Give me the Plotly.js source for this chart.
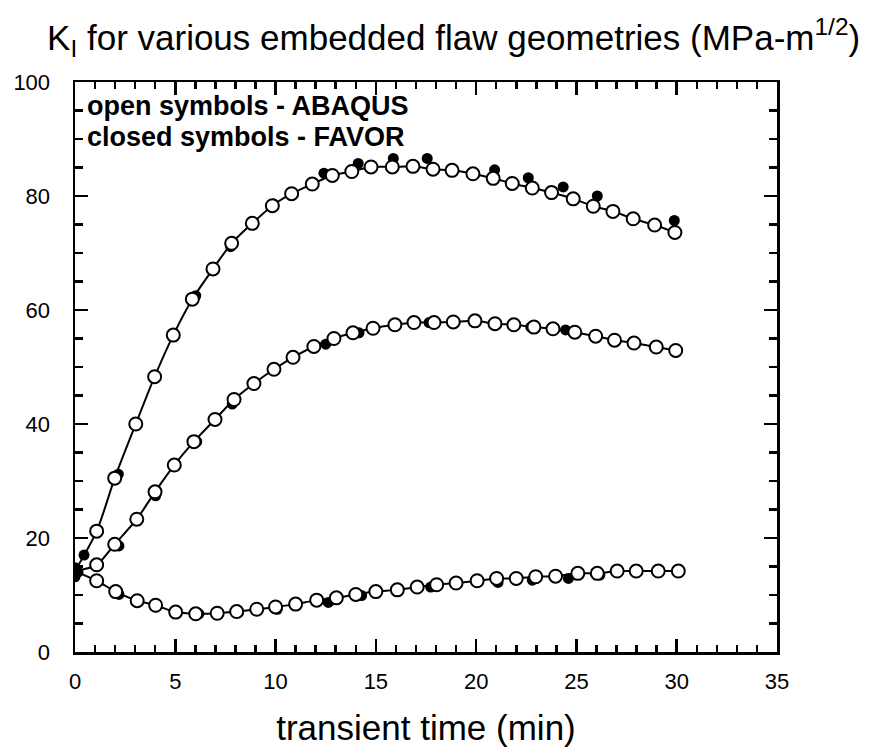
<!DOCTYPE html>
<html>
<head>
<meta charset="utf-8">
<script src="https://cdn.plot.ly/plotly-3.0.1.min.js"></script>
<style>html,body{margin:0;padding:0;background:#fff;}</style>
</head>
<body>
<div id="chart" style="width:869px;height:747px;"></div>
<script>
// Top curve (ABAQUS open symbols)
const t1Open = [0, 1.08, 1.98, 3.03, 3.97, 4.9, 5.85, 6.88, 7.81, 8.84, 9.84, 10.8, 11.83, 12.83, 13.8, 14.76, 15.82, 16.85, 17.85, 18.8, 19.84, 20.85, 21.8, 22.8, 23.76, 24.84, 25.84, 26.82, 27.83, 28.9, 29.91];
const k1Open = [14.2, 21.2, 30.5, 40.0, 48.3, 55.6, 61.9, 67.2, 71.7, 75.2, 78.3, 80.4, 82.1, 83.6, 84.3, 85.1, 85.1, 85.2, 84.7, 84.5, 83.9, 83.1, 82.2, 81.4, 80.6, 79.5, 78.2, 77.3, 76.0, 74.9, 73.6];
// Top curve (FAVOR closed symbols)
const t1Closed = [0, 0.45, 2.16, 4.02, 6.02, 7.76, 9.9, 12.41, 14.12, 15.87, 17.56, 20.92, 22.6, 24.34, 26.04, 29.88];
const k1Closed = [14.8, 17.0, 31.2, 48.3, 62.5, 71.1, 78.6, 84.0, 85.7, 86.6, 86.6, 84.6, 83.2, 81.6, 80.0, 75.7];

// Middle curve
const t2Open = [0, 1.08, 1.98, 3.08, 3.99, 4.95, 5.93, 6.98, 7.93, 8.92, 9.92, 10.87, 11.91, 12.91, 13.86, 14.86, 15.95, 16.9, 17.9, 18.86, 19.94, 20.94, 21.88, 22.88, 23.83, 24.92, 25.96, 26.9, 27.87, 28.98, 29.95];
const k2Open = [14.2, 15.3, 18.9, 23.3, 28.1, 32.8, 36.9, 40.8, 44.3, 47.1, 49.6, 51.7, 53.6, 55.0, 56.0, 56.8, 57.4, 57.8, 57.8, 57.9, 58.1, 57.6, 57.4, 57.0, 56.7, 56.1, 55.4, 54.7, 54.2, 53.5, 52.9];
const t2Closed = [0, 2.19, 4.02, 6.07, 7.84, 9.97, 12.5, 14.16, 15.9, 17.65, 20.85, 22.72, 24.46, 26.04, 29.95];
const k2Closed = [13.9, 18.6, 27.4, 36.9, 43.5, 49.4, 54.0, 56.0, 57.2, 57.8, 57.6, 57.0, 56.5, 55.4, 52.6];

// Bottom curve
const t3Open = [0, 1.08, 2.03, 3.1, 4.02, 5.02, 6.02, 7.09, 8.06, 9.06, 10.0, 11.0, 12.05, 13.03, 14.0, 15.0, 16.07, 17.06, 18.03, 19.0, 20.05, 21.02, 22.0, 22.97, 23.96, 25.07, 26.04, 27.03, 27.98, 29.08, 30.08];
const k3Open = [14.2, 12.5, 10.6, 9.0, 8.2, 7.0, 6.7, 6.8, 7.1, 7.5, 7.9, 8.4, 9.1, 9.5, 10.1, 10.6, 10.9, 11.4, 11.8, 12.1, 12.5, 12.9, 12.9, 13.2, 13.3, 13.8, 13.8, 14.2, 14.2, 14.2, 14.2];
const t3Closed = [0, 0.15, 2.19, 4.05, 6.18, 8.15, 10.08, 12.63, 14.29, 16.12, 17.73, 21.09, 22.8, 24.6, 26.17, 30.1];
const k3Closed = [13.2, 14.0, 10.1, 7.9, 6.7, 6.9, 7.5, 8.7, 9.9, 10.8, 11.4, 12.2, 12.6, 12.9, 13.5, 14.0];

const openSets = [[t1Open, k1Open], [t2Open, k2Open], [t3Open, k3Open]];
const closedSets = [[t1Closed, k1Closed], [t2Closed, k2Closed], [t3Closed, k3Closed]];

const traces = [];
openSets.forEach(([t, k]) => {
  traces.push({x: t, y: k, mode: 'lines', type: 'scatter',
    line: {color: '#000', width: 2, shape: 'spline', smoothing: 0.8},
    hoverinfo: 'skip', showlegend: false});
});
closedSets.forEach(([t, k]) => {
  traces.push({x: t, y: k, mode: 'markers', type: 'scatter',
    marker: {symbol: 'circle', size: 11, color: '#000', line: {width: 0}},
    showlegend: false});
});
openSets.forEach(([t, k]) => {
  traces.push({x: t.slice(1), y: k.slice(1), mode: 'markers', type: 'scatter',
    marker: {symbol: 'circle', size: 13, color: '#fff', line: {color: '#000', width: 2}},
    showlegend: false});
});

const fontFam = '"Liberation Sans", Arial, Helvetica, sans-serif';

const layout = {
  width: 869, height: 747,
  margin: {l: 75, r: 92, t: 82, b: 95},
  paper_bgcolor: '#fff', plot_bgcolor: '#fff',
  showlegend: false,
  font: {family: fontFam, color: '#000'},
  title: {
    text: 'K<sub>I</sub> for various embedded flaw geometries (MPa-m<sup>1/2</sup>)',
    font: {family: fontFam, size: 35, color: '#000'},
    xref: 'container', x: 0.522, xanchor: 'center',
    yref: 'container', y: 0.95, yanchor: 'middle'
  },
  xaxis: {
    range: [0, 35], tickmode: 'linear', tick0: 0, dtick: 5,
    ticks: 'inside', ticklen: 13, tickwidth: 2.5, tickcolor: '#000',
    minor: {dtick: 1, ticks: 'inside', ticklen: 7, tickwidth: 2.5, tickcolor: '#000', showgrid: false},
    showline: true, linecolor: '#000', linewidth: 2.5, mirror: 'ticks',
    showgrid: false, zeroline: false,
    tickfont: {family: fontFam, size: 22, color: '#000'},
    ticklabelstandoff: 8,
    title: {text: 'transient time (min)', font: {family: fontFam, size: 35, color: '#000'}, standoff: 24}
  },
  yaxis: {
    range: [0, 100], tickmode: 'linear', tick0: 0, dtick: 20,
    ticks: 'inside', ticklen: 13, tickwidth: 2.5, tickcolor: '#000',
    minor: {dtick: 5, ticks: 'inside', ticklen: 8, tickwidth: 2.5, tickcolor: '#000', showgrid: false},
    showline: true, linecolor: '#000', linewidth: 2.5, mirror: 'ticks',
    showgrid: false, zeroline: false,
    tickfont: {family: fontFam, size: 22, color: '#000'},
    ticklabelstandoff: 18
  },
  annotations: [
    {text: '<b>open symbols - ABAQUS</b>', xref: 'paper', yref: 'paper', x: 0.0142, y: 0.958,
     xanchor: 'left', yanchor: 'middle', showarrow: false, font: {family: fontFam, size: 27, color: '#000'}},
    {text: '<b>closed symbols - FAVOR</b>', xref: 'paper', yref: 'paper', x: 0.0142, y: 0.9035,
     xanchor: 'left', yanchor: 'middle', showarrow: false, font: {family: fontFam, size: 27, color: '#000'}}
  ]
};

Plotly.newPlot('chart', traces, layout, {displayModeBar: false, staticPlot: true});
</script>
</body>
</html>
